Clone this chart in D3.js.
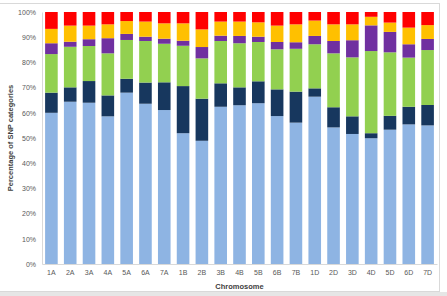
<!DOCTYPE html>
<html><head><meta charset="utf-8">
<script src="https://cdn.jsdelivr.net/npm/d3@7"></script>
<style>body{margin:0;background:#fff}svg{display:block}</style>
</head><body>
<script>
const chromosomes = ["1A","2A","3A","4A","5A","6A","7A","1B","2B","3B","4B","5B","6B","7B","1D","2D","3D","4D","5D","6D","7D"];
const seriesNames = ["Cat1","Cat2","Cat3","Cat4","Cat5","Cat6"];
const cat1 = [60.0,64.4,64.0,58.6,68.0,63.6,61.1,51.9,48.9,62.4,63.0,63.8,58.7,56.1,66.4,54.2,51.6,49.9,53.3,55.4,55.0];
const cat2 = [8.0,5.7,8.6,8.3,5.5,8.4,11.0,18.7,16.7,9.3,7.1,8.7,10.6,12.3,3.3,8.0,7.0,2.0,5.5,7.0,8.1];
const cat3 = [15.3,16.1,13.9,16.7,15.4,16.5,15.3,16.0,16.0,16.8,17.5,15.6,15.9,17.0,17.5,21.4,23.4,32.6,25.2,19.5,21.8];
const cat4 = [4.3,2.0,2.7,6.0,2.4,1.7,2.0,2.0,4.5,2.1,2.9,2.1,2.9,2.6,3.3,4.9,6.8,10.2,8.1,5.3,4.4];
const cat5 = [5.7,6.4,5.4,5.5,5.1,6.0,6.1,6.9,7.0,5.6,5.7,5.7,6.5,7.1,6.1,6.6,6.3,3.4,3.7,6.6,5.5];
const cat6 = [6.7,5.4,5.4,4.9,3.6,3.8,4.5,4.5,6.9,3.8,3.8,4.1,5.4,4.9,3.4,4.9,4.9,1.9,4.2,6.2,5.2];
const yTicks = [0,10,20,30,40,50,60,70,80,90,100];
const colors = ["#8EB4E3","#17375E","#92D050","#7030A0","#FFC000","#FF0000"];

const W = 447, H = 296;
const svg = d3.select("body").append("svg").attr("width", W).attr("height", H)
  .style("font-family","'Liberation Sans', Arial, sans-serif");

// frame
svg.append("rect").attr("x",0).attr("y",292).attr("width",W).attr("height",4).attr("fill","#e6e6e6");
svg.append("rect").attr("x",-1).attr("y",3.5).attr("width",440.5).attr("height",288).attr("fill","none").attr("stroke","#d9d9d9");

const seriesArr = [cat1,cat2,cat3,cat4,cat5,cat6];
const table = chromosomes.map((c,i)=>{
  const o = {chrom:c};
  const tot = d3.sum(seriesArr, s=>s[i]);
  seriesNames.forEach((n,k)=>o[n]=seriesArr[k][i]/tot*100);
  return o;
});
const stack = d3.stack().keys(seriesNames)(table);

const x = d3.scaleBand().domain(chromosomes).range([42,437]).paddingInner(0.33).paddingOuter(0.165);
const y = d3.scaleLinear().domain([0,100]).range([264,12]);

const g = svg.append("g");
g.selectAll("g.s").data(stack).join("g").attr("fill",(d,i)=>colors[i])
  .selectAll("rect").data(d=>d).join("rect")
  .attr("x",d=>x(d.data.chrom)).attr("width",x.bandwidth())
  .attr("y",d=>y(d[1])).attr("height",d=>y(d[0])-y(d[1]));

// axes
const yAxis = svg.append("g").attr("transform","translate(42,0)")
  .call(d3.axisLeft(y).tickValues(yTicks).tickFormat(d=>d+"%").tickSize(0).tickPadding(6));
yAxis.select(".domain").attr("stroke","#d9d9d9");
yAxis.selectAll("text").attr("fill","#595959").style("font-size","7px");

const xAxis = svg.append("g").attr("transform","translate(0,264)")
  .call(d3.axisBottom(x).tickSize(0).tickPadding(6));
xAxis.select(".domain").attr("stroke","#d9d9d9");
xAxis.selectAll("text").attr("fill","#595959").style("font-size","7px");

svg.append("text").attr("x",239.5).attr("y",288.5).attr("text-anchor","middle")
  .attr("fill","#404040").style("font-size","7.5px").style("font-weight","bold").text("Chromosome");
svg.append("text").attr("transform","translate(12.5,138) rotate(-90)").attr("text-anchor","middle")
  .attr("fill","#404040").style("font-size","7.5px").style("font-weight","bold").text("Percentage of SNP categories");
</script>
</body></html>
